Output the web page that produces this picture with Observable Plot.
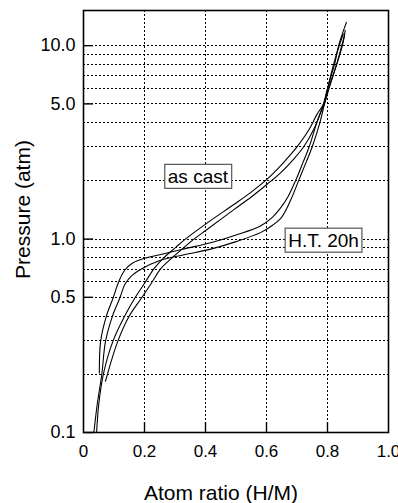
<!DOCTYPE html>
<html><head><meta charset="utf-8">
<script src="https://cdn.jsdelivr.net/npm/d3@7"></script>
<script src="https://cdn.jsdelivr.net/npm/@observablehq/plot@0.6"></script>
<style>body{margin:0;background:#fff} svg{display:block}</style>
</head><body><div id="chart"></div>
<script>
// ---- data ----
const htAbsX = [0.052,0.056,0.075,0.098,0.115,0.135,0.16,0.2,0.25,0.33,0.42,0.5,0.58,0.62,0.645,0.67,0.695,0.72,0.74,0.765,0.787,0.80,0.812,0.823,0.838,0.862];
const htAbsP = [0.203,0.295,0.4,0.5,0.6,0.69,0.75,0.795,0.83,0.89,0.96,1.05,1.17,1.3,1.44,1.65,2.0,2.5,3.0,4.0,5.0,6.0,7.0,8.0,10.2,13.2];
const htDesX = [0.034,0.045,0.06,0.072,0.095,0.12,0.135,0.155,0.19,0.25,0.33,0.42,0.5,0.58,0.62,0.65,0.68,0.705,0.73,0.75,0.775,0.79,0.803,0.83,0.848,0.856];
const htDesP = [0.1,0.14,0.2,0.295,0.4,0.5,0.58,0.64,0.70,0.775,0.83,0.89,0.97,1.08,1.18,1.3,1.6,2.0,2.5,3.0,4.0,5.0,6.0,8.0,10.2,11.3];
const castAbsX = [0.043,0.05,0.065,0.096,0.135,0.17,0.203,0.23,0.263,0.30,0.334,0.405,0.493,0.55,0.602,0.646,0.68,0.70,0.74,0.765,0.787,0.80,0.82,0.84,0.852];
const castAbsP = [0.1,0.14,0.2,0.295,0.4,0.5,0.6,0.7,0.8,0.9,1.0,1.21,1.51,1.75,2.04,2.39,2.75,3.0,3.7,4.4,5.0,6.0,8.0,10.2,11.5];
const castDesX = [0.072,0.112,0.15,0.192,0.225,0.252,0.29,0.328,0.362,0.405,0.493,0.55,0.602,0.646,0.69,0.722,0.755,0.775,0.79,0.805,0.83,0.85,0.858];
const castDesP = [0.184,0.295,0.4,0.5,0.6,0.7,0.8,0.9,1.0,1.12,1.42,1.65,1.92,2.2,2.6,3.0,3.7,4.4,5.0,6.0,8.0,10.2,12.0];

const yGrid = [0.2,0.3,0.4,0.5,0.6,0.7,0.8,0.9,1,2,3,4,5,6,7,8,9,10];
const xGrid = [0.2,0.4,0.6,0.8];
const yTicks = [0.1,0.5,1,5,10];
const xTicks = [0,0.2,0.4,0.6,0.8,1.0];

const annoText = ["as cast","H.T. 20h"];
const annoX = [0.375,0.787];
const annoP = [2.1,0.982];

const xTitle = "Atom ratio (H/M)";
const yTitle = "Pressure (atm)";

// ---- build rows ----
const rows = [];
function add(name, xs, ps){ xs.forEach((x,i)=>rows.push({series:name, x, p:ps[i]})); }
add("ht-abs", htAbsX, htAbsP);
add("ht-des", htDesX, htDesP);
add("cast-abs", castAbsX, castAbsP);
add("cast-des", castDesX, castDesP);
const annos = annoText.map((t,i)=>({t, x:annoX[i], p:annoP[i]}));

const yDomain = [0.1, 15.2];
const tickFracX = 0.033;                    // inward tick length (x units)
const tickFactorY = Math.pow(10, 10/193.4); // inward tick length (log factor)

const gridStyle = {stroke:"#000", strokeDasharray:"2,2", strokeWidth:1, shapeRendering:"crispEdges"};

const plot = Plot.plot({
  width: 398, height: 503,
  marginLeft: 83, marginRight: 10, marginTop: 10, marginBottom: 71,
  x: {domain: [0, 1]},
  y: {type: "log", domain: yDomain},
  style: {fontFamily: "'Liberation Sans', Arial, Helvetica, sans-serif", background: "white", color: "black"},
  marks: [
    Plot.ruleY(yGrid, gridStyle),
    Plot.ruleX(xGrid, gridStyle),
    Plot.ruleY(yTicks, {x1: 0, x2: tickFracX, stroke: "black", strokeWidth: 1.4}),
    Plot.ruleX(xGrid, {y1: yDomain[0], y2: yDomain[0]*tickFactorY, stroke: "black", strokeWidth: 1.4}),
    Plot.axisY(yTicks, {tickSize: 0, tickPadding: 8, tickFormat: d => d.toFixed(1), fontSize: 18, label: null}),
    Plot.axisX(xTicks, {tickSize: 0, tickPadding: 12, tickFormat: d => d === 0 ? "0" : d.toFixed(1), fontSize: 17, label: null}),
    Plot.line(rows, {x: "x", y: "p", z: "series", curve: "catmull-rom", stroke: "black", strokeWidth: 1.1}),
    Plot.frame({stroke: "black", strokeWidth: 1.6}),
    Plot.text(annos, {x: "x", y: "p", text: "t", fontSize: 19, fill: "black"}),
    Plot.text([yTitle], {text: d => d, frameAnchor: "left", textAnchor: "middle", lineAnchor: "middle", dx: -60, dy: -12, rotate: -90, fontSize: 21}),
    Plot.text([xTitle], {text: d => d, frameAnchor: "bottom", textAnchor: "middle", lineAnchor: "middle", dx: -15, dy: 61, fontSize: 21})
  ]
});
document.getElementById("chart").appendChild(plot);

// boxes around annotation labels
plot.querySelectorAll("text").forEach(t => {
  if (annoText.includes(t.textContent)) {
    const b = t.getBBox();
    const r = document.createElementNS("http://www.w3.org/2000/svg", "rect");
    r.setAttribute("x", b.x - 3);
    r.setAttribute("y", b.y - 1.5);
    r.setAttribute("width", b.width + 6);
    r.setAttribute("height", b.height + 3);
    r.setAttribute("fill", "white");
    r.setAttribute("stroke", "#555");
    r.setAttribute("stroke-width", "1.2");
    if (t.getAttribute("transform")) r.setAttribute("transform", t.getAttribute("transform"));
    t.parentNode.insertBefore(r, t);
  }
});
</script>
</body></html>
